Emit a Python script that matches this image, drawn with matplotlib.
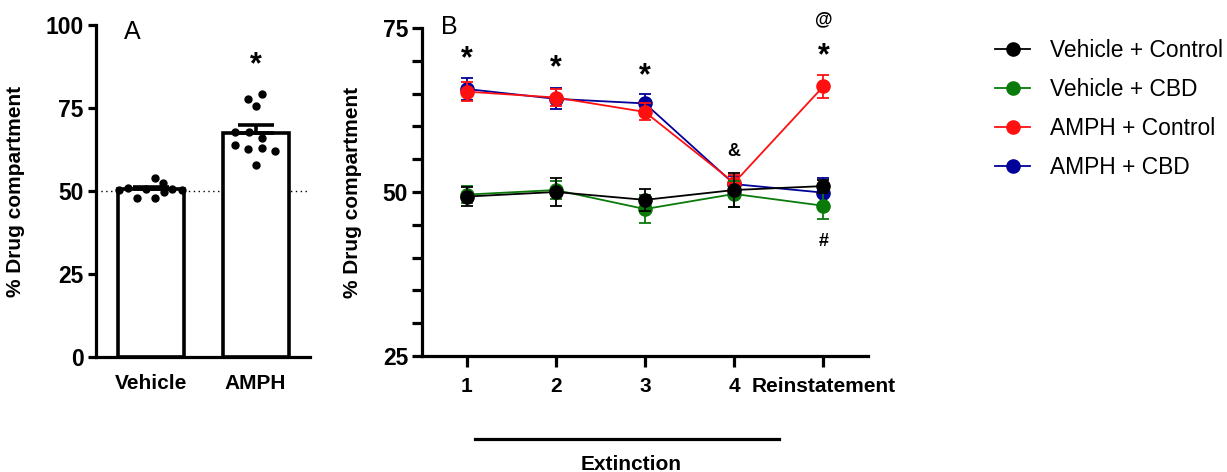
import numpy as np
import matplotlib
matplotlib.use('Agg')
import matplotlib.pyplot as plt
from matplotlib.lines import Line2D

plt.rcParams['font.family'] = ['Liberation Sans', 'DejaVu Sans']

# panel A data
groups = ['Vehicle', 'AMPH']
group_means = [50.5, 67.6]
group_sem = [0.8, 2.2]
vehicle_pts = [50.3, 51.0, 47.8, 50.5, 53.9, 47.9, 52.3, 50.6, 50.3, 49.8]
vehicle_jit = [-0.31, -0.22, -0.14, -0.05, 0.04, 0.04, 0.11, 0.20, 0.29, 0.12]
amph_pts = [77.6, 79.2, 75.6, 67.9, 67.9, 65.9, 63.9, 62.6, 63.0, 62.0, 57.8]
amph_jit = [-0.07, 0.06, 0.0, -0.2, -0.06, 0.06, -0.2, -0.07, 0.06, 0.19, 0.0]

# panel B data
sessions = [1, 2, 3, 4, 5]
session_labels = ['1', '2', '3', '4', 'Reinstatement']
veh_ctrl = [49.3, 50.0, 48.8, 50.3, 50.9]
veh_ctrl_err = [1.4, 2.1, 1.7, 2.6, 1.0]
veh_cbd = [49.6, 50.3, 47.4, 49.7, 47.9]
veh_cbd_err = [1.3, 1.3, 2.1, 2.0, 2.0]
amph_ctrl = [65.3, 64.4, 62.2, 51.4, 66.1]
amph_ctrl_err = [1.5, 1.3, 1.3, 1.2, 1.7]
amph_cbd = [65.7, 64.2, 63.5, 51.2, 49.9]
amph_cbd_err = [1.7, 1.6, 1.5, 1.2, 2.3]

marks = ['*', '*', '*', '&', '*', '@', '#']
mark_x = [1, 2, 3, 4, 5, 5, 5]
mark_y = [71.2, 69.7, 68.6, 56.2, 71.6, 76.3, 42.4]

fig = plt.figure(figsize=(12.27, 4.72), dpi=100)
ax1 = fig.add_axes([0.0782, 0.2436, 0.1744, 0.7034])
ax2 = fig.add_axes([0.3439, 0.2458, 0.3635, 0.6949])

# ---- panel A ----
ax1.axhline(50, color='black', lw=1.0, ls=(0, (1, 2.5)), zorder=0)
xpos = np.arange(len(groups))
ax1.bar(xpos, group_means, width=0.63, color='white', edgecolor='black', linewidth=2.6, zorder=2)
ax1.errorbar(xpos, group_means, yerr=[[0, 0], group_sem], fmt='none', ecolor='black',
             elinewidth=2.6, capsize=13, capthick=2.6, zorder=3)
ax1.plot(xpos[0] + np.array(vehicle_jit), vehicle_pts, 'o', color='black', ms=5, zorder=4)
ax1.plot(xpos[1] + np.array(amph_jit), amph_pts, 'o', color='black', ms=5, zorder=4)
ax1.set_xlim(-0.53, 1.52)
ax1.set_ylim(0, 100)
ax1.set_yticks([0, 25, 50, 75, 100])
ax1.set_xticks(xpos)
ax1.set_xticklabels(groups, fontsize=15, fontweight='bold')
ax1.tick_params(axis='x', length=0, pad=12)
ax1.tick_params(axis='y', length=6, width=2.3, pad=3, labelsize=16.5)
for lab in ax1.get_yticklabels():
    lab.set_fontweight('bold')
for s in ['top', 'right']:
    ax1.spines[s].set_visible(False)
for s in ['left', 'bottom']:
    ax1.spines[s].set_linewidth(2.3)
ax1.set_ylabel('% Drug compartment', fontsize=15, fontweight='bold')
ax1.yaxis.set_label_coords(-0.33, 0.5)
ax1.text(-0.18, 97.9, 'A', fontsize=18, ha='center', va='center')
ax1.text(1, 87.8, '*', fontsize=22, fontweight='bold', ha='center', va='center')

# ---- panel B ----
series = [
    ('AMPH + CBD', amph_cbd, amph_cbd_err, '#00009a', 3),
    ('AMPH + Control', amph_ctrl, amph_ctrl_err, '#ff1010', 4),
    ('Vehicle + CBD', veh_cbd, veh_cbd_err, '#0a7a0a', 5),
    ('Vehicle + Control', veh_ctrl, veh_ctrl_err, 'black', 6),
]
for name, vals, err, col, z in series:
    ax2.errorbar(sessions, vals, yerr=err, color=col, lw=1.3, marker='o', ms=9.5,
                 elinewidth=1.3, capsize=4, capthick=1.3, zorder=z)

ax2.set_xlim(0.5, 5.5)
ax2.set_ylim(25, 75)
ax2.set_yticks([25, 50, 75])
ax2.set_yticks(np.arange(25, 76, 5), minor=True)
ax2.set_xticks(sessions)
ax2.set_xticklabels(session_labels, fontsize=15, fontweight='bold')
ax2.tick_params(axis='x', length=8, width=2.3, pad=7)
ax2.tick_params(axis='y', which='both', length=7, width=2.3, pad=3, labelsize=16.5)
for lab in ax2.get_yticklabels():
    lab.set_fontweight('bold')
for s in ['top', 'right']:
    ax2.spines[s].set_visible(False)
for s in ['left', 'bottom']:
    ax2.spines[s].set_linewidth(2.3)
ax2.set_ylabel('% Drug compartment', fontsize=15, fontweight='bold')
ax2.yaxis.set_label_coords(-0.135, 0.5)
ax2.text(0.81, 75.15, 'B', fontsize=18, ha='center', va='center')

for m, mx, my in zip(marks, mark_x, mark_y):
    if m == '*':
        ax2.text(mx, my - 0.9, m, fontsize=22, fontweight='bold', ha='center', va='center')
    else:
        ax2.text(mx, my, m, fontsize=13, fontweight='bold', ha='center', va='center')

# extinction bar under sessions 1-4
trans = matplotlib.transforms.blended_transform_factory(ax2.transData, ax2.transAxes)
ax2.plot([1.09, 4.5], [-0.253, -0.253], color='black', lw=2.3, transform=trans, clip_on=False)
ax2.text(2.85, -0.33, 'Extinction', transform=trans, fontsize=15, fontweight='bold',
         ha='center', va='center')

handles = []
for name, col in [('Vehicle + Control', 'black'), ('Vehicle + CBD', '#0a7a0a'),
                  ('AMPH + Control', '#ff1010'), ('AMPH + CBD', '#00009a')]:
    handles.append(Line2D([], [], color=col, lw=1.3, marker='o', ms=9.5, label=name))
fig.legend(handles=handles, loc='upper left', bbox_to_anchor=(0.811, 0.917), frameon=False,
           fontsize=16.4, handlelength=1.55, handletextpad=0.85, labelspacing=0.7,
           borderpad=0, borderaxespad=0)

fig.savefig('out.png', dpi=100)
